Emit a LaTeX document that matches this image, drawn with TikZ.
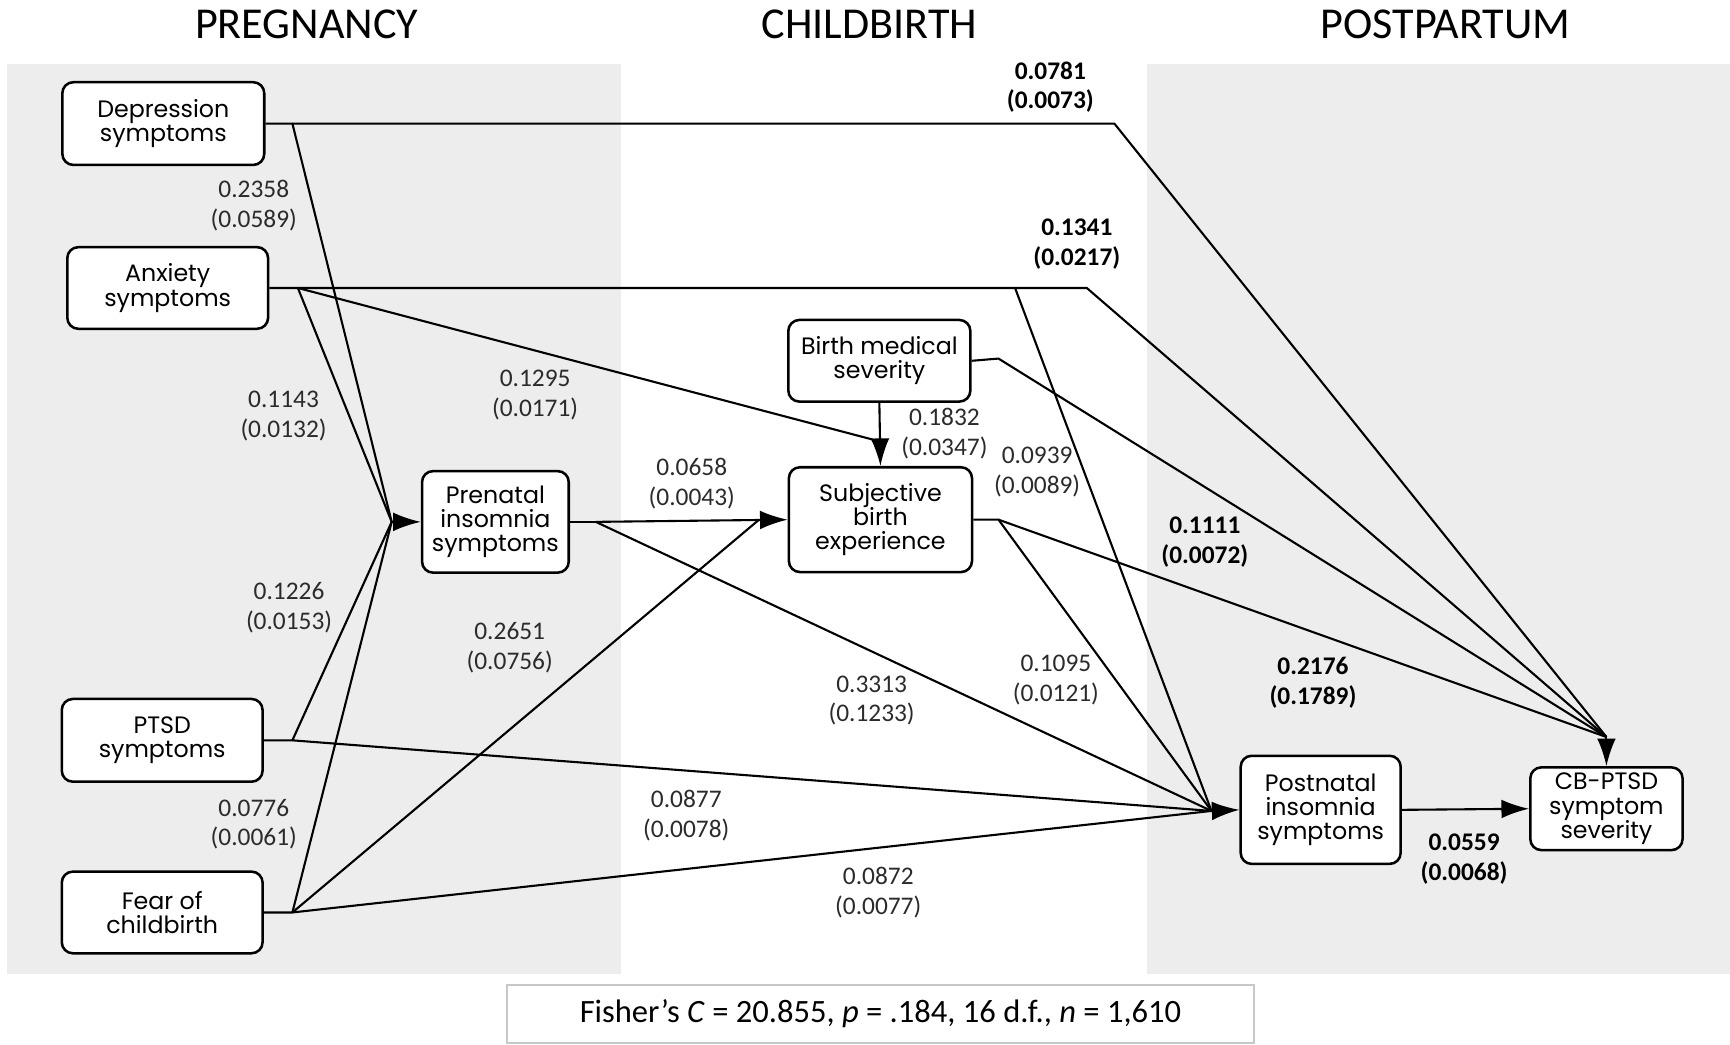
\documentclass[tikz,border=0pt]{standalone}
\usepackage{fontspec}
\setmainfont{Carlito}
\newfontfamily\boxfont{Poppins}
\usetikzlibrary{arrows.meta}
\definecolor{panel}{HTML}{EDEDED}
\definecolor{labgray}{HTML}{2B2B2B}
\definecolor{frame}{HTML}{C8C8C8}
\begin{document}
\begin{tikzpicture}[x=1pt,y=-1pt,
  var/.style={draw, line width=2.3pt, rounded corners=10pt, fill=white,
    align=center, inner sep=0pt,
    font=\boxfont\fontsize{21.5}{22}\selectfont},
  link/.style={line width=1.9pt, line join=round},
  arr/.style={link, -{Latex[length=25pt,width=17pt]}},
  lab/.style={align=center, text=labgray, font=\fontsize{23}{27}\selectfont},
  blab/.style={align=center, text=black, font=\bfseries\fontsize{23}{27}\selectfont},
  head/.style={font=\fontsize{40}{42}\selectfont}]
\useasboundingbox (0,0) rectangle (1568,947);

% background panels for pregnancy and postpartum
\fill[panel] (6,58) rectangle (563,883);
\fill[panel] (1040,58) rectangle (1568,883);

% period headings
\node[head] (hpreg) at (278,22) {PREGNANCY};
\node[head] (hbirth) at (788,22) {CHILDBIRTH};
\node[head] (hpost) at (1310,22) {POSTPARTUM};

% variables
\node[var, minimum width=183pt, minimum height=75pt] (dep) at (148,112) {Depression\\symptoms};
\node[var, minimum width=182pt, minimum height=74pt] (anx) at (152,261) {Anxiety\\symptoms};
\node[var, minimum width=182pt, minimum height=75pt] (ptsd) at (147,671) {PTSD\\symptoms};
\node[var, minimum width=182pt, minimum height=74pt] (fear) at (147,827) {Fear of\\childbirth};
\node[var, minimum width=133pt, minimum height=92pt] (pre) at (449,473) {Prenatal\\insomnia\\symptoms};
\node[var, minimum width=165pt, minimum height=74pt] (bms) at (797,327) {Birth medical\\severity};
\node[var, minimum width=166pt, minimum height=95pt] (sub) at (798,471) {Subjective\\birth\\experience};
\node[var, minimum width=145pt, minimum height=98pt] (post) at (1197,734) {Postnatal\\insomnia\\symptoms};
\node[var, minimum width=138pt, minimum height=75pt] (cbp) at (1456,733) {CB-PTSD\\symptom\\severity};

% junction points where paths meet before an arrowhead
\coordinate (pc) at (355,473);
\coordinate (sc) at (688,471);
\coordinate (st) at (797,400);
\coordinate (pn) at (1098,735);
\coordinate (cb) at (1456,668);

% exit points just beside each source box
\coordinate (dx) at (265,112);
\coordinate (ax) at (270,261);
\coordinate (px) at (265,671);
\coordinate (fx) at (265,827);
\coordinate (prx) at (540,473);
\coordinate (bx) at (905,325);
\coordinate (sx) at (905,471);
\coordinate (dk) at (1010,112);
\coordinate (ak) at (985,261);
\coordinate (aj) at (920,261);

% paths into prenatal insomnia
\draw[link] (dep.east) -- (dx) -- (pc);
\draw[link] (anx.east) -- (ax) -- (pc);
\draw[link] (ptsd.east) -- (px) -- (pc);
\draw[link] (fear.east) -- (fx) -- (pc);
\draw[arr] (pc) -- (pre.west);

% paths into subjective birth experience
\draw[link] (ax) -- (st);
\draw[arr] (bms.south) -- (sub.north);
\draw[link] (pre.east) -- (prx);
\draw[arr] (prx) -- (sub.west);
\draw[link] (fx) -- (sc);

% paths into postnatal insomnia
\draw[link] (prx) -- (pn);
\draw[link] (px) -- (pn);
\draw[link] (fx) -- (pn);
\draw[link] (aj) -- (pn);
\draw[link] (sub.east) -- (sx) -- (pn);
\draw[arr] (pn) -- (post.west);

% paths into CB-PTSD symptom severity
\draw[link] (dx) -- (dk) -- (cb);
\draw[link] (ax) -- (ak) -- (cb);
\draw[link] (bms.east) -- (bx) -- (cb);
\draw[link] (sx) -- (cb);
\draw[arr] (cb) -- (cbp.north);
\draw[arr] (post.east) -- (cbp.west);

% path coefficients
\node[lab] (l1) at (230,186) {0.2358\\(0.0589)};
\node[lab] (l2) at (257,377) {0.1143\\(0.0132)};
\node[lab] (l3) at (262,551) {0.1226\\(0.0153)};
\node[lab] (l4) at (230,747) {0.0776\\(0.0061)};
\node[lab] (l5) at (485,358) {0.1295\\(0.0171)};
\node[lab] (l6) at (856,393) {0.1832\\(0.0347)};
\node[lab] (l7) at (940,428) {0.0939\\(0.0089)};
\node[lab] (l8) at (627,438) {0.0658\\(0.0043)};
\node[lab] (l9) at (462,587) {0.2651\\(0.0756)};
\node[lab] (l10) at (790,635) {0.3313\\(0.1233)};
\node[lab] (l11) at (957,616) {0.1095\\(0.0121)};
\node[lab] (l12) at (622,739) {0.0877\\(0.0078)};
\node[lab] (l13) at (796,809) {0.0872\\(0.0077)};
\node[blab] (b1) at (952,79) {0.0781\\(0.0073)};
\node[blab] (b2) at (976,221) {0.1341\\(0.0217)};
\node[blab] (b3) at (1092,491) {0.1111\\(0.0072)};
\node[blab] (b4) at (1190,619) {0.2176\\(0.1789)};
\node[blab] (b5) at (1327,779) {0.0559\\(0.0068)};

% model fit
\node[draw=frame, line width=2pt, fill=white, minimum width=677pt, minimum height=52pt,
  font=\fontsize{29.5}{32}\selectfont] (fit) at (798,919)
  {Fisher’s \textit{C} = 20.855, \textit{p} = .184, 16 d.f., \textit{n} = 1,610};
\end{tikzpicture}
\end{document}
